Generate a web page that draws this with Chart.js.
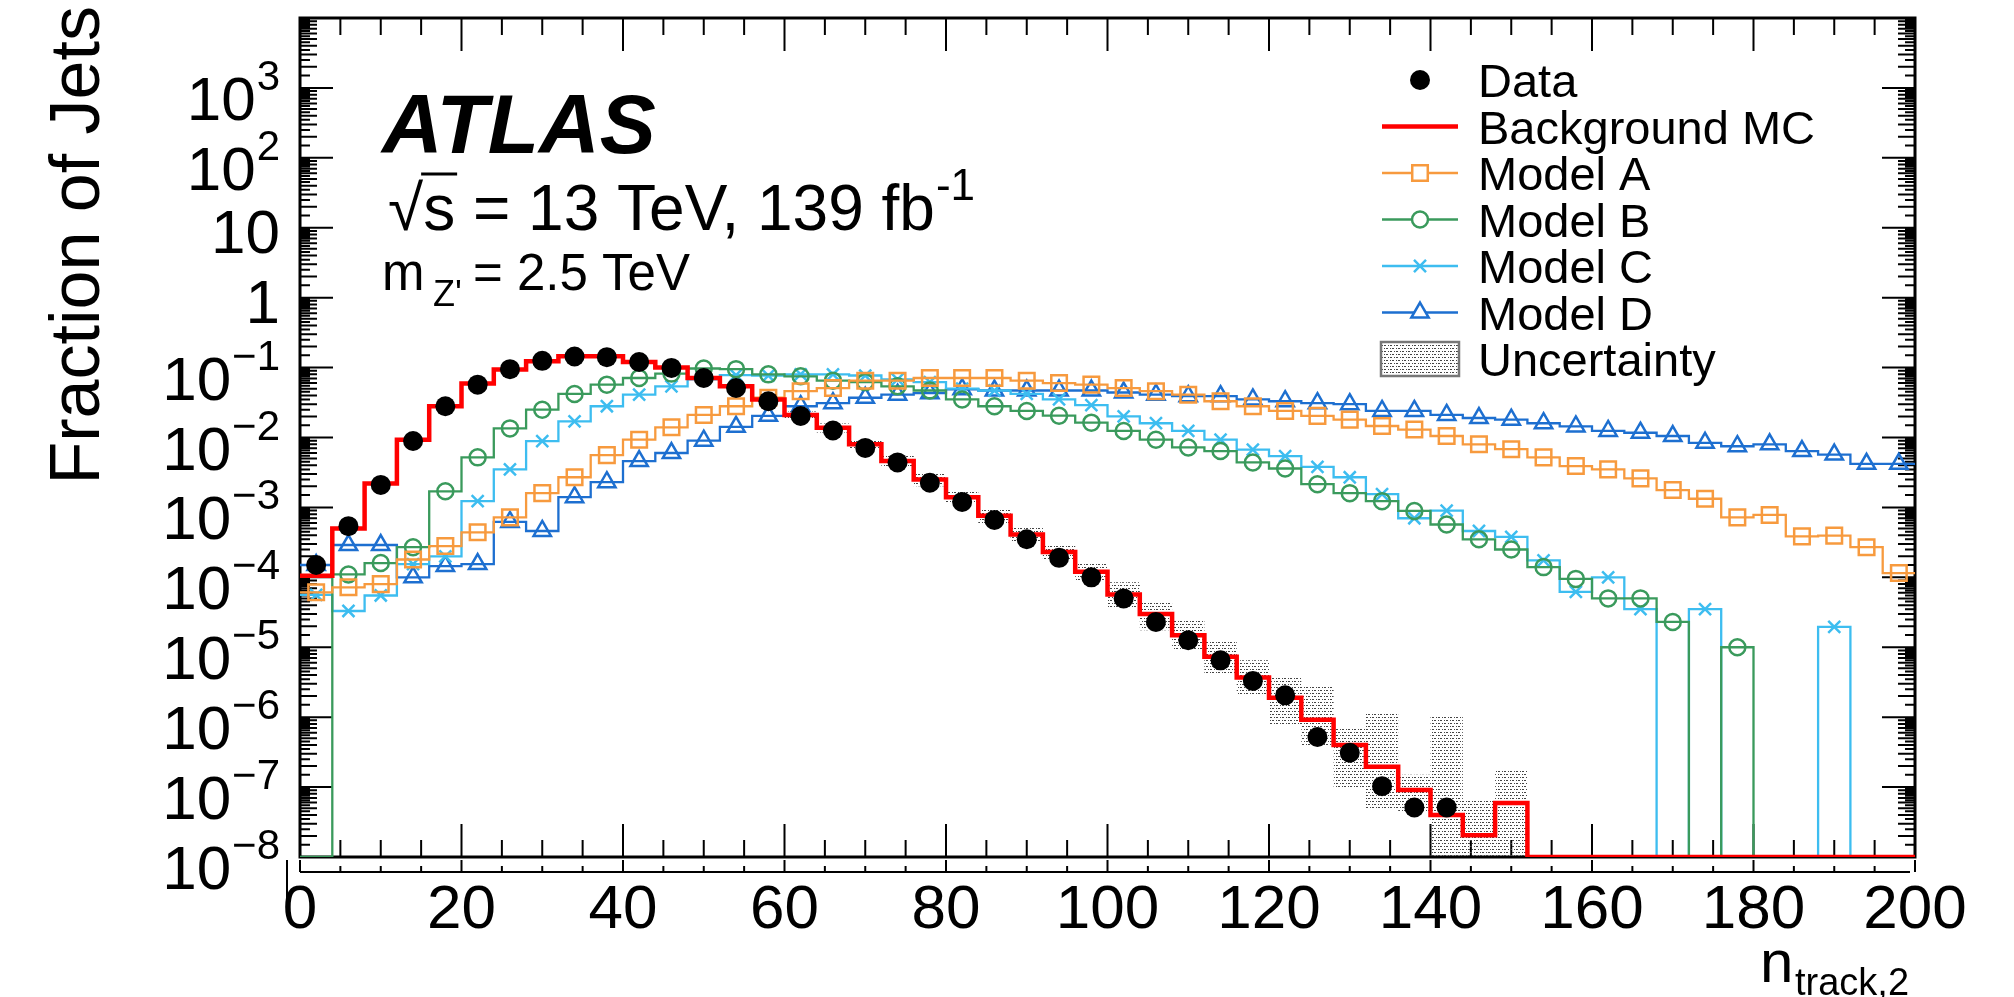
<!DOCTYPE html>
<html>
<head>
<meta charset="utf-8">
<title>Fraction of Jets vs n_track,2</title>
<script src="https://cdn.jsdelivr.net/npm/chart.js@4.4.1/dist/chart.umd.min.js"></script>
<style>
  html, body { margin: 0; padding: 0; background: #fff; }
  #wrap { width: 2014px; height: 997px; }
</style>
</head>
<body>
<div id="wrap"><canvas id="chart" width="2014" height="997"></canvas></div>
<script>
// histogram bins of n_track,2 (width 4)
const binWidth = 4;
const binCenters = [
  2, 6, 10, 14, 18, 22, 26, 30, 34, 38,
  42, 46, 50, 54, 58, 62, 66, 70, 74, 78,
  82, 86, 90, 94, 98, 102, 106, 110, 114, 118,
  122, 126, 130, 134, 138, 142, 146, 150, 154, 158,
  162, 166, 170, 174, 178, 182, 186, 190, 194, 198
];

const dataFrac = [
  1.5e-4, 5.4e-4, 2.1e-3, 8.9e-3, 0.028, 0.057, 0.095, 0.125, 0.144, 0.141,
  0.12, 0.099, 0.071, 0.051, 0.033, 0.0203, 0.0126, 0.0071, 0.0044, 0.00225,
  0.0012, 6.6e-4, 3.5e-4, 1.9e-4, 1.0e-4, 5.0e-5, 2.3e-5, 1.26e-5, 6.5e-6, 3.3e-6,
  2.05e-6, 5.2e-7, 3.1e-7, 1.03e-7, 5.1e-8, 5.1e-8, 0, 0, 0, 0,
  0, 0, 0, 0, 0, 0, 0, 0, 0, 0
];

const bgMC = [
  1.05e-4, 5.0e-4, 2.2e-3, 9.3e-3, 0.028, 0.059, 0.094, 0.123, 0.145, 0.145,
  0.12, 0.1, 0.071, 0.054, 0.035, 0.021, 0.0138, 0.008, 0.0046, 0.0025,
  0.0014, 7.6e-4, 4.1e-4, 2.3e-4, 1.2e-4, 5.7e-5, 3.0e-5, 1.48e-5, 7.3e-6, 3.7e-6,
  1.9e-6, 9.2e-7, 4.0e-7, 1.95e-7, 9.1e-8, 4.0e-8, 2.05e-8, 5.9e-8, 0, 0,
  0, 0, 0, 0, 0, 0, 0, 0, 0, 0
];

const modelA = [
  6.1e-5, 7.2e-5, 8.0e-5, 1.8e-4, 2.8e-4, 4.4e-4, 7.2e-4, 1.6e-3, 2.7e-3, 5.6e-3,
  9.3e-3, 0.014, 0.021, 0.028, 0.037, 0.046, 0.051, 0.065, 0.065, 0.071,
  0.071, 0.071, 0.065, 0.06, 0.057, 0.051, 0.046, 0.041, 0.033, 0.028,
  0.024, 0.0204, 0.018, 0.0146, 0.013, 0.0105, 8.0e-3, 6.8e-3, 5.2e-3, 3.9e-3,
  3.5e-3, 2.6e-3, 1.77e-3, 1.33e-3, 7.2e-4, 7.8e-4, 3.85e-4, 3.95e-4, 2.7e-4, 1.15e-4
];

const modelB = [
  0, 1.1e-4, 1.6e-4, 2.7e-4, 1.7e-3, 5.2e-3, 0.0135, 0.025, 0.042, 0.057,
  0.071, 0.082, 0.097, 0.095, 0.08, 0.075, 0.065, 0.062, 0.054, 0.047,
  0.035, 0.028, 0.024, 0.0205, 0.0163, 0.0124, 9.3e-3, 7.2e-3, 6.4e-3, 4.4e-3,
  3.6e-3, 2.15e-3, 1.6e-3, 1.23e-3, 8.9e-4, 5.7e-4, 3.5e-4, 2.5e-4, 1.4e-4, 9.5e-5,
  5.0e-5, 5.0e-5, 2.3e-5, 0, 1.0e-5, 0, 0, 0, 0, 0
];

const modelC = [
  5.6e-5, 3.3e-5, 5.5e-5, 1.55e-4, 2.0e-4, 1.23e-3, 3.5e-3, 8.9e-3, 0.017, 0.028,
  0.041, 0.054, 0.068, 0.078, 0.077, 0.08, 0.08, 0.077, 0.068, 0.062,
  0.05, 0.047, 0.042, 0.035, 0.029, 0.02, 0.016, 0.0124, 9.3e-3, 6.7e-3,
  5.4e-3, 3.8e-3, 2.7e-3, 1.55e-3, 7.0e-4, 9.0e-4, 4.6e-4, 3.8e-4, 1.75e-4, 6.2e-5,
  1.0e-4, 3.5e-5, 0, 3.5e-5, 0, 0, 0, 1.95e-5, 0, 0
];

const modelD = [
  1.5e-4, 2.9e-4, 2.9e-4, 1.0e-4, 1.45e-4, 1.55e-4, 6.2e-4, 4.6e-4, 1.4e-3, 2.3e-3,
  4.6e-3, 6.0e-3, 9.0e-3, 0.0142, 0.0204, 0.028, 0.031, 0.037, 0.041, 0.043,
  0.049, 0.047, 0.047, 0.047, 0.047, 0.044, 0.041, 0.039, 0.039, 0.035,
  0.033, 0.031, 0.03, 0.024, 0.024, 0.021, 0.019, 0.018, 0.016, 0.0144,
  0.0124, 0.0117, 0.0105, 8.4e-3, 7.5e-3, 8.0e-3, 6.4e-3, 5.7e-3, 4.2e-3, 4.2e-3
];

// background uncertainty band (upper / lower edge), null where not drawn
const uncUp = [
  null, null, null, null, null, null, null, null, null, null,
  null, null, null, null, null, 0.0235, 0.0158, 0.0094, 0.0055, 0.0031,
  0.00175, 9.6e-4, 5.3e-4, 3.0e-4, 1.6e-4, 8.5e-5, 4.6e-5, 2.4e-5, 1.25e-5, 6.5e-6,
  3.7e-6, 2.8e-6, 7.2e-7, 1.18e-6, 1.5e-7, 1.05e-6, 6.5e-8, 1.75e-7, null, null,
  null, null, null, null, null, null, null, null, null, null
];
const uncDown = [
  null, null, null, null, null, null, null, null, null, null,
  null, null, null, null, null, 0.0185, 0.0118, 0.0067, 0.0038, 0.002,
  0.00112, 6.0e-4, 3.15e-4, 1.75e-4, 9.0e-5, 3.6e-5, 1.75e-5, 9.0e-6, 4.3e-6, 2.0e-6,
  8.0e-7, 4.0e-7, 1.0e-7, 4.7e-8, 4.5e-8, 0, 0, 0, null, null,
  null, null, null, null, null, null, null, null, null, null
];

const xTickLabels = ['0', '20', '40', '60', '80', '100', '120', '140', '160', '180', '200'];
const yTickExponents = [-8, -7, -6, -5, -4, -3, -2, -1, 0, 1, 2, 3];
const legendLabels = ['Data', 'Background MC', 'Model A', 'Model B', 'Model C', 'Model D', 'Uncertainty'];

const yMin = 1e-8, yMax = 1e4;
const FONT = '"Liberation Sans", Arial, Helvetica, sans-serif';
const colors = {
  data: '#000000', bg: '#ff0000',
  A: '#f79a3e', B: '#3a9a5c', C: '#3dbdf0', D: '#1d6fd0'
};

const floorZero = v => (v > 0 ? v : yMin);

// left bin edges + closing edge, drawn as a stepped line
function stepLine(values) {
  const pts = [];
  let last = -1;
  values.forEach((v, i) => {
    if (v === null) return;
    pts.push({ x: binCenters[i] - binWidth / 2, y: floorZero(v) });
    last = i;
  });
  pts.push({ x: binCenters[last] + binWidth / 2, y: floorZero(values[last]) });
  return pts;
}

function markers(values) {
  return values.map((v, i) => ({ x: binCenters[i], y: v })).filter(p => p.y > 0);
}

function stipple() {
  const c = document.createElement('canvas');
  c.width = 6; c.height = 6;
  const g = c.getContext('2d');
  g.fillStyle = '#444';
  g.fillRect(0, 0, 2, 1); g.fillRect(4, 0, 1, 1);
  g.fillRect(2, 3, 1, 1); g.fillRect(4, 3, 2, 1);
  return g.createPattern(c, 'repeat');
}
const hatch = stipple();

const stepSet = (values, color, width) => ({
  data: stepLine(values), borderColor: color, borderWidth: width,
  pointRadius: 0, stepped: true, fill: false, tension: 0
});
const markSet = (values, color, style, r, filled) => ({
  data: markers(values), showLine: false, pointStyle: style, pointRadius: r,
  pointBorderColor: color, pointBackgroundColor: filled ? color : 'rgba(0,0,0,0)',
  pointBorderWidth: filled ? 0 : 2.5
});

const markerStyle = {
  A: ['rect', 11], B: ['circle', 8], C: ['crossRot', 8.5], D: ['triangle', 10]
};

// frame and inward ticks go under the histograms, as in the original
const rootFrame = {
  id: 'rootFrame',
  beforeDatasetsDraw(chart) {
    const { ctx, chartArea: a } = chart;
    const xs = chart.scales.x, ys = chart.scales.y;
    ctx.save();
    ctx.strokeStyle = '#000';

    ctx.lineWidth = 2;
    ctx.beginPath();
    for (let v = 0; v <= 200; v += 5) {
      const px = xs.getPixelForValue(v);
      const len = v % 20 === 0 ? 33 : 17;
      ctx.moveTo(px, a.bottom); ctx.lineTo(px, a.bottom - len);
      ctx.moveTo(px, a.top); ctx.lineTo(px, a.top + len);
    }
    for (let d = -8; d <= 4; d++) {
      const py = ys.getPixelForValue(Math.pow(10, d));
      ctx.moveTo(a.left, py); ctx.lineTo(a.left + 33, py);
      ctx.moveTo(a.right, py); ctx.lineTo(a.right - 33, py);
      if (d === 4) continue;
      for (let k = 1.5; k < 10; k += 0.5) {
        const pk = ys.getPixelForValue(k * Math.pow(10, d));
        const len = Number.isInteger(k) ? 17 : 10;
        ctx.moveTo(a.left, pk); ctx.lineTo(a.left + len, pk);
        ctx.moveTo(a.right, pk); ctx.lineTo(a.right - len, pk);
      }
    }
    ctx.stroke();

    ctx.lineWidth = 3;
    ctx.strokeRect(a.left, a.top, a.right - a.left, a.bottom - a.top);

    // second (lower) axis line
    ctx.lineWidth = 2;
    ctx.beginPath();
    ctx.moveTo(a.left, a.bottom + 15); ctx.lineTo(a.right - 5, a.bottom + 15);
    for (let v = 0; v <= 200; v += 5) {
      const px = xs.getPixelForValue(v);
      ctx.moveTo(px, a.bottom + 15); ctx.lineTo(px, a.bottom + (v % 20 === 0 ? 3 : 9));
    }
    ctx.moveTo(a.left - 13, a.bottom + 3); ctx.lineTo(a.left - 13, a.bottom + 45);
    ctx.stroke();
    ctx.restore();
  },

  afterDraw(chart) {
    const { ctx } = chart;
    const xs = chart.scales.x, ys = chart.scales.y;
    ctx.save();
    ctx.fillStyle = '#000';
    ctx.strokeStyle = '#000';

    // x tick labels
    ctx.font = `62px ${FONT}`;
    ctx.textAlign = 'center';
    ctx.textBaseline = 'alphabetic';
    xTickLabels.forEach(t => ctx.fillText(t, xs.getPixelForValue(Number(t)), 928));

    // y tick labels 10^n
    ctx.textAlign = 'right';
    yTickExponents.forEach(d => {
      const py = ys.getPixelForValue(Math.pow(10, d));
      if (d === 0 || d === 1) {
        ctx.font = `62px ${FONT}`;
        ctx.fillText(d === 0 ? '1' : '10', 280, py + 25);
        return;
      }
      const sup = (d < 0 ? '\u2212' : '') + Math.abs(d);
      ctx.font = `42px ${FONT}`;
      const sw = ctx.measureText(sup).width;
      ctx.fillText(sup, 280, py + 2);
      ctx.font = `62px ${FONT}`;
      ctx.fillText('10', 279 - sw, py + 32);
    });

    // axis titles
    ctx.save();
    ctx.translate(99, 6);
    ctx.rotate(-Math.PI / 2);
    ctx.font = `70px ${FONT}`;
    ctx.textAlign = 'right';
    ctx.fillText('Fraction of Jets', 0, 0);
    ctx.restore();

    ctx.textAlign = 'left';
    ctx.font = `60px ${FONT}`;
    ctx.fillText('n', 1760, 982);
    ctx.font = `38px ${FONT}`;
    ctx.fillText('track,2', 1795, 995);

    // ATLAS label and energy / luminosity
    ctx.font = `italic bold 84px ${FONT}`;
    ctx.fillText('ATLAS', 382, 153);

    ctx.font = `64px ${FONT}`;
    let x = 388;
    ctx.fillText('\u221A', x, 230);
    x += ctx.measureText('\u221A').width;
    const sW = ctx.measureText('s').width;
    ctx.fillText('s', x, 230);
    ctx.lineWidth = 3;
    ctx.beginPath(); ctx.moveTo(x - 2, 174); ctx.lineTo(x + sW + 2, 174); ctx.stroke();
    x += sW;
    const rest = ' = 13 TeV, 139 fb';
    ctx.fillText(rest, x, 230);
    x += ctx.measureText(rest).width + 1;
    ctx.font = `44px ${FONT}`;
    ctx.fillText('-1', x, 200);

    ctx.font = `51px ${FONT}`;
    ctx.fillText('m', 382, 290);
    ctx.font = `36px ${FONT}`;
    ctx.fillText("Z'", 433, 306);
    ctx.font = `51px ${FONT}`;
    ctx.fillText('= 2.5 TeV', 473, 290);

    // legend
    const lx = 1420, ly0 = 80, dy = 46.5;
    legendLabels.forEach((lab, i) => {
      const ly = ly0 + i * dy;
      ctx.fillStyle = '#000';
      ctx.font = `47px ${FONT}`;
      ctx.fillText(lab, 1478, ly + 17);
      if (lab === 'Data') {
        ctx.beginPath(); ctx.arc(lx, ly, 10, 0, Math.PI * 2); ctx.fill();
      } else if (lab === 'Background MC') {
        ctx.strokeStyle = colors.bg; ctx.lineWidth = 4.5;
        ctx.beginPath(); ctx.moveTo(1382, ly); ctx.lineTo(1458, ly); ctx.stroke();
      } else if (lab === 'Uncertainty') {
        ctx.fillStyle = hatch;
        ctx.fillRect(1381, ly - 17, 78, 34);
        ctx.strokeStyle = '#777'; ctx.lineWidth = 2.5;
        ctx.strokeRect(1381, ly - 17, 78, 34);
      } else {
        const key = lab.slice(-1);
        ctx.strokeStyle = colors[key]; ctx.lineWidth = 2.3;
        ctx.beginPath(); ctx.moveTo(1382, ly); ctx.lineTo(1458, ly); ctx.stroke();
        ctx.fillStyle = '#fff';
        ctx.lineWidth = 2.5;
        Chart.helpers.drawPoint(ctx, { pointStyle: markerStyle[key][0], radius: markerStyle[key][1], borderWidth: 2.5, rotation: 0 }, lx, ly);
      }
    });
    ctx.restore();
  }
};

const datasets = [
  markSet(dataFrac, colors.data, 'circle', 10, true),
  stepSet(bgMC, colors.bg, 4.5),
  { data: stepLine(uncUp), borderColor: 'rgba(0,0,0,0)', borderWidth: 0, pointRadius: 0,
    stepped: true, fill: '+1', backgroundColor: hatch },
  { data: stepLine(uncDown), borderColor: 'rgba(0,0,0,0)', borderWidth: 0, pointRadius: 0,
    stepped: true, fill: false },
  markSet(modelA, colors.A, 'rect', 11, false),
  stepSet(modelA, colors.A, 2.3),
  markSet(modelB, colors.B, 'circle', 8, false),
  stepSet(modelB, colors.B, 2.3),
  markSet(modelC, colors.C, 'crossRot', 8.5, false),
  stepSet(modelC, colors.C, 2.3),
  markSet(modelD, colors.D, 'triangle', 10, false),
  stepSet(modelD, colors.D, 2.3)
];

new Chart(document.getElementById('chart').getContext('2d'), {
  type: 'line',
  data: { datasets },
  options: {
    responsive: false,
    animation: false,
    events: [],
    layout: { padding: { left: 300, right: 99, top: 18, bottom: 140 } },
    plugins: { legend: { display: false }, tooltip: { enabled: false } },
    scales: {
      x: { type: 'linear', min: 0, max: 200, display: false },
      y: { type: 'logarithmic', min: yMin, max: yMax, display: false }
    }
  },
  plugins: [rootFrame]
});
</script>
</body>
</html>
